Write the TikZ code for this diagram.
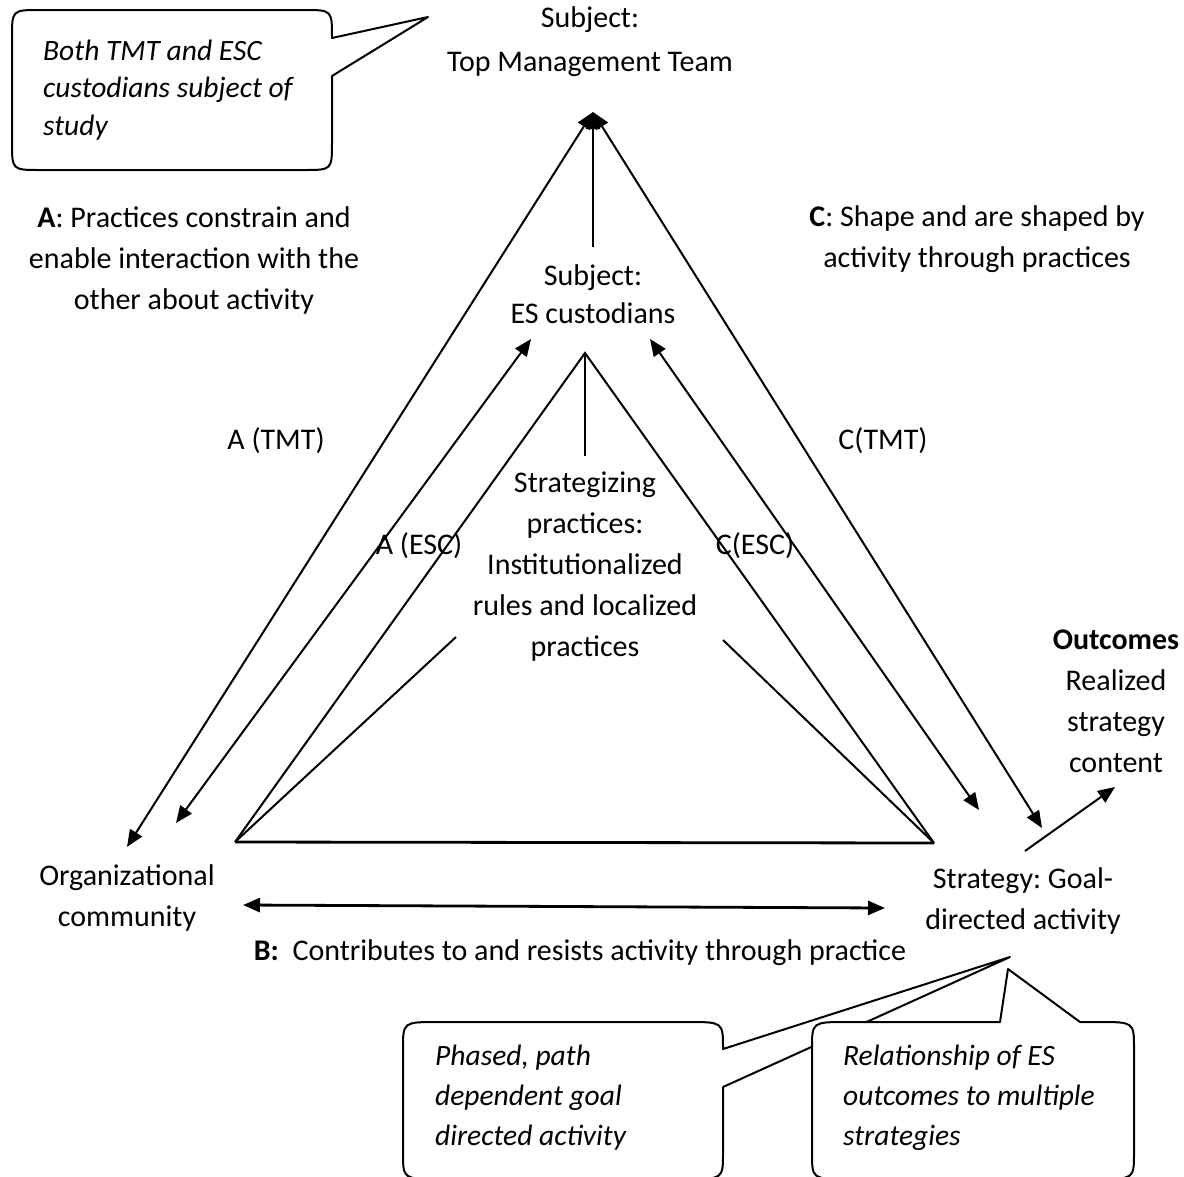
\documentclass[tikz,border=0pt]{standalone}
\usepackage{fontspec}
\setmainfont{Carlito}
\usetikzlibrary{arrows.meta}
\begin{document}
\frenchspacing
\begin{tikzpicture}[x=1pt,y=-1pt,
  >={Triangle[length=17pt,width=14pt]},
  lbl/.style={font=\fontsize{30pt}{41pt}\selectfont, align=center, inner sep=0pt},
  note/.style={font=\fontsize{29.5pt}{40pt}\selectfont\itshape, align=left, inner sep=0pt, anchor=west},
  conn/.style={line width=2pt, line join=miter},
  thick conn/.style={line width=2.8pt},
  callout/.style={draw, fill=white, line width=2pt, line join=round}]
\useasboundingbox (0,0) rectangle (1184,1176);
\fill[white] (0,0) rectangle (1184,1176);
\clip (0,0) rectangle (1184,1176);

% coordinates
\coordinate (apex) at (593,112);
\coordinate (vbot) at (593,247);
\coordinate (olt) at (127,847);
\coordinate (ort) at (1042,828);
\coordinate (ilt) at (176,823);
\coordinate (ilb) at (531,339);
\coordinate (irt) at (650,339);
\coordinate (irb) at (979,810);
\coordinate (tA) at (585,353);
\coordinate (tL) at (235,842);
\coordinate (tR) at (934,843);
\coordinate (sL) at (456,637);
\coordinate (sR) at (723,640);
\coordinate (bL) at (243,905);
\coordinate (bR) at (885,908);
\coordinate (oS) at (1025,851);
\coordinate (oE) at (1115,787);
\coordinate (vs) at (585,456);

% text nodes
\node[lbl, font=\fontsize{30pt}{44pt}\selectfont] (tmt) at (590,42) {Subject:\\Top Management Team};
\node[lbl, font=\fontsize{30pt}{38pt}\selectfont] (esc) at (593,294) {Subject:\\ES custodians};
\node[lbl] (strat) at (585,567) {Strategizing\\practices:\\Institutionalized\\rules and localized\\practices};
\node[lbl] (atext) at (194,260) {\textbf{A}: Practices constrain and\\enable interaction with the\\other about activity};
\node[lbl] (ctext) at (977,239) {\textbf{C}: Shape and are shaped by\\activity through practices};
\node[lbl] (atmt) at (276,441) {A (TMT)};
\node[lbl] (ctmt) at (883,441) {C(TMT)};
\node[lbl] (aesc) at (419,546) {A (ESC)};
\node[lbl] (cesc) at (755,546) {C(ESC)};
\node[lbl] (outc) at (1116,701) {\textbf{Outcomes}\\Realized\\strategy\\content};
\node[lbl] (strg) at (1023,901) {Strategy: Goal-\\directed activity};
\node[lbl] (org) at (127,898) {Organizational\\community};
\node[lbl] (btext) at (580,953) {\textbf{B:}\ \ Contributes to and resists activity through practice};

% connectors
\draw[conn,<->] (olt) -- (apex);
\draw[conn,<->] (apex) -- (ort);
\draw[conn,->] (vbot) -- (apex);
\draw[conn,<->] (ilt) -- (ilb);
\draw[conn,<->] (irt) -- (irb);
\draw[conn] (tL) -- (tA) -- (tR);
\draw[thick conn] (tL) -- (tR);
\draw[conn] (tL) -- (sL);
\draw[conn] (tR) -- (sR);
\draw[thick conn,<->] (bL) -- (bR);
\draw[conn,->] (oS) -- (oE);
\draw[conn] (tA) -- (vs);

% callouts
\draw[callout] (332,76) -- (332,142) .. controls (332,170) .. (304,170) -- (40,170) .. controls (12,170) .. (12,142) -- (12,38) .. controls (12,10) .. (40,10) -- (304,10) .. controls (332,10) .. (332,38) -- (428,17) -- cycle;
\node[note, font=\fontsize{29.5pt}{37.5pt}\selectfont\itshape] (n1) at (43,90) {Both TMT and ESC\\custodians subject of\\study};

\draw[callout] (723,1087) -- (723,1152) .. controls (723,1179) .. (688,1179) -- (438,1179) .. controls (403,1179) .. (403,1152) -- (403,1049) .. controls (403,1022) .. (438,1022) -- (688,1022) .. controls (723,1022) .. (723,1049) -- (1010,957) -- cycle;
\node[note] (n2) at (435,1098) {Phased, path\\dependent goal\\directed activity};

\draw[callout] (1080,1022) -- (1099,1022) .. controls (1134,1022) .. (1134,1049) -- (1134,1152) .. controls (1134,1179) .. (1099,1179) -- (847,1179) .. controls (812,1179) .. (812,1152) -- (812,1049) .. controls (812,1022) .. (847,1022) -- (1000,1022) -- (1008,969) -- cycle;
\node[note] (n3) at (843,1098) {Relationship of ES\\outcomes to multiple\\strategies};
\end{tikzpicture}
\end{document}
